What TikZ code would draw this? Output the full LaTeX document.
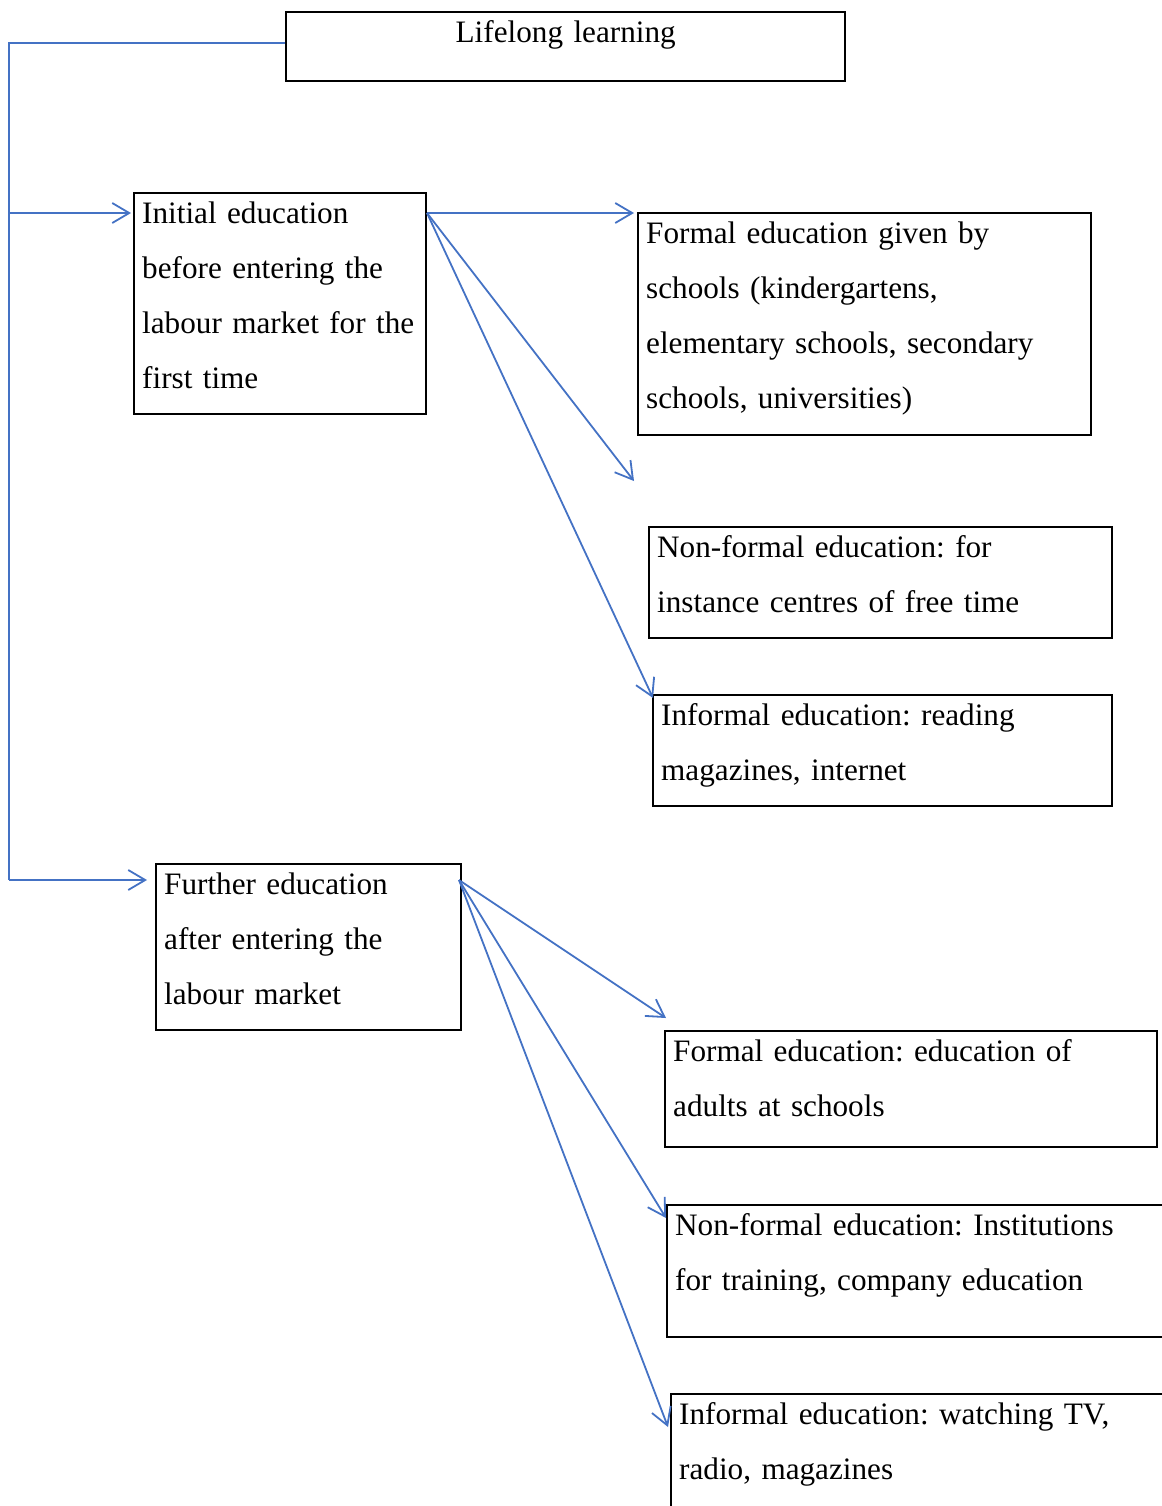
\documentclass[tikz,border=0pt]{standalone}
\usepackage{fontspec}
\setmainfont{Liberation Serif}
\usetikzlibrary{arrows.meta,calc}
\definecolor{linkblue}{RGB}{68,114,196}
\frenchspacing

\begin{document}
\begin{tikzpicture}[x=0.5pt,y=-0.5pt,
  box/.style={draw, line width=1.2pt, anchor=north west, align=left,
    inner xsep=4pt, inner ysep=0pt, text height=15pt,
    font=\fontsize{15.6}{27.5}\selectfont},
  link/.style={draw=linkblue, line width=0.9pt},
  arrow/.style={link, -{Straight Barb[length=8.5pt,width=10pt]}}]
\clip (0,0) rectangle (1162,1506);

% top box
\node[box, align=center, text width=271.5pt, text depth=19.5pt] (lifelong) at (285,11) {Lifelong learning};

% initial education
\node[box, text width=138pt, text depth=95.5pt] (initial) at (133,192) {Initial education\\
before entering the\\
labour market for the\\
first time};
\node[box, text width=218.5pt, text depth=96pt] (formal1) at (637,212) {Formal education given by\\
schools (kindergartens,\\
elementary schools, secondary\\
schools, universities)};
\node[box, text width=223.5pt, text depth=40.5pt] (nonformal1) at (648,526) {Non-formal education: for\\
instance centres of free time};
\node[box, text width=221.5pt, text depth=40.5pt] (informal1) at (652,694) {Informal education: reading\\
magazines, internet};

% further education
\node[box, text width=144.5pt, text depth=68pt] (further) at (155,863) {Further education\\
after entering the\\
labour market};
\node[box, text width=238pt, text depth=43pt] (formal2) at (664,1030) {Formal education: education of\\
adults at schools};
\node[box, text width=252pt, text depth=51pt] (nonformal2) at (666,1204) {Non-formal education: Institutions\\
for training, company education};
\node[box, text width=252pt, text depth=60pt] (informal2) at (670,1393) {Informal education: watching TV,\\
radio, magazines};

% connectors
\coordinate (trunk) at (9,43);
\coordinate (initial-in) at (131,213);
\coordinate (further-in) at (147,880);
\coordinate (initial-out) at (427,213);
\coordinate (further-out) at (459,880);
\coordinate (gap-end) at (634,481);

\draw[link] (lifelong.west |- trunk) -- (trunk) -- (trunk |- further-in);
\draw[arrow] (trunk |- initial-in) -- (initial-in);
\draw[arrow] (trunk |- further-in) -- (further-in);

\draw[arrow] (initial-out) -- (634,213);
\draw[arrow] (initial-out) -- (gap-end);
\draw[arrow] (initial-out) -- ($(informal1.north west)+(1,4)$);

\draw[arrow] (further-out) -- (666,1018);
\draw[arrow] (further-out) -- ($(nonformal2.north west)+(0,14)$);
\draw[arrow] (further-out) -- ($(informal2.north west)+(-2,34)$);
\end{tikzpicture}
\end{document}
